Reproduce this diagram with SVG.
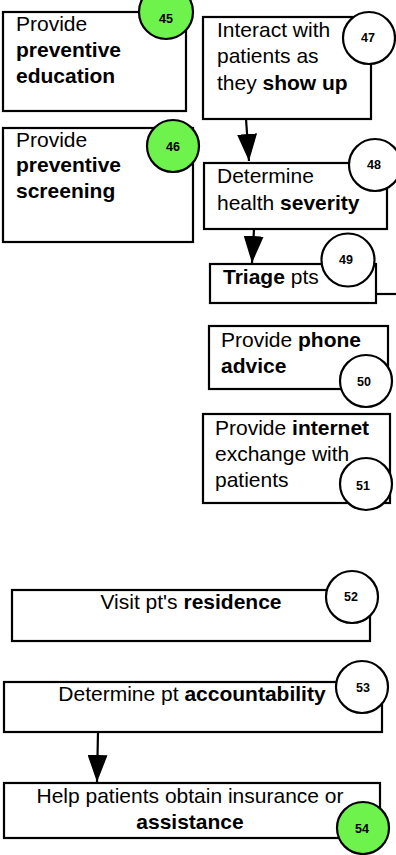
<svg xmlns="http://www.w3.org/2000/svg" width="396" height="855" viewBox="0 0 396 855">
<defs>
<style>
.box{fill:#fff;stroke:#000;stroke-width:2.2}
.num{fill:#fff;stroke:#000;stroke-width:2.2}
.green{fill:#6ef24c}
.t{font-family:"Liberation Sans",Arial,Helvetica,sans-serif;font-size:21px;fill:#000}
.b{font-weight:bold}
.n{font-family:"Liberation Sans",Arial,Helvetica,sans-serif;font-size:12.5px;font-weight:bold;fill:#000;text-anchor:middle}
.c{text-anchor:middle}
.conn{fill:none;stroke:#000;stroke-width:2.2}
</style>
<marker id="ah" markerUnits="userSpaceOnUse" markerWidth="27" markerHeight="20" refX="27" refY="10" orient="auto">
<path d="M0,0 L27,10 L0,20 z" fill="#000"/>
</marker>
</defs>
<rect width="396" height="855" fill="#fff"/>

<g id="n45">
<rect class="box" x="3" y="12" width="183" height="99"/>
<text class="t" x="16" y="31">Provide</text>
<text class="t b" x="16" y="57">preventive</text>
<text class="t b" x="16" y="83">education</text>
<circle class="num green" cx="166" cy="12" r="27"/>
<text class="n" x="166" y="23">45</text>
</g>

<g id="n46">
<rect class="box" x="3" y="128" width="190" height="114"/>
<text class="t" x="16" y="147">Provide</text>
<text class="t b" x="16" y="172">preventive</text>
<text class="t b" x="16" y="198">screening</text>
<circle class="num green" cx="173" cy="146" r="26"/>
<text class="n" x="173" y="151">46</text>
</g>

<g id="n47">
<rect class="box" x="203" y="17" width="168" height="102"/>
<text class="t" x="217" y="37">Interact with</text>
<text class="t" x="217" y="63">patients as</text>
<text class="t" x="217" y="90">they <tspan class="b">show up</tspan></text>
<circle class="num" cx="369" cy="38" r="26"/>
<text class="n" x="368" y="42">47</text>
</g>

<g id="n48">
<rect class="box" x="204" y="163" width="183" height="66"/>
<text class="t" x="217" y="183">Determine</text>
<text class="t" x="217" y="210">health <tspan class="b">severity</tspan></text>
<circle class="num" cx="375" cy="165" r="26"/>
<text class="n" x="374" y="169">48</text>
</g>

<g id="n49">
<rect class="box" x="210" y="264" width="166" height="39"/>
<text class="t" x="223" y="284"><tspan class="b">Triage</tspan> pts</text>
<circle class="num" cx="348" cy="260" r="26.5"/>
<text class="n" x="346" y="264">49</text>
</g>

<g id="n50">
<rect class="box" x="209" y="326" width="179" height="63"/>
<text class="t" x="221" y="347">Provide <tspan class="b">phone</tspan></text>
<text class="t b" x="221" y="373">advice</text>
<circle class="num" cx="366" cy="381" r="26"/>
<text class="n" x="364" y="386">50</text>
</g>

<g id="n51">
<rect class="box" x="203" y="414" width="187" height="89"/>
<text class="t" x="215" y="435">Provide <tspan class="b">internet</tspan></text>
<text class="t" x="215" y="461">exchange with</text>
<text class="t" x="215" y="487">patients</text>
<circle class="num" cx="366" cy="484" r="26"/>
<text class="n" x="363" y="490">51</text>
</g>

<g id="n52">
<rect class="box" x="12" y="590" width="358" height="51"/>
<text class="t c" x="191" y="609">Visit pt's <tspan class="b">residence</tspan></text>
<circle class="num" cx="352" cy="597" r="26"/>
<text class="n" x="351" y="601">52</text>
</g>

<g id="n53">
<rect class="box" x="4" y="682" width="378" height="50"/>
<text class="t c" x="192" y="701">Determine pt <tspan class="b">accountability</tspan></text>
<circle class="num" cx="362" cy="687" r="26"/>
<text class="n" x="363" y="692">53</text>
</g>

<g id="n54">
<rect class="box" x="4" y="783" width="376" height="55"/>
<text class="t c" x="190" y="803">Help patients obtain insurance or</text>
<text class="t c b" x="190" y="829">assistance</text>
<circle class="num green" cx="363" cy="828" r="26"/>
<text class="n" x="362" y="833">54</text>
</g>

<g id="connectors">
<line class="conn" x1="246" y1="119" x2="249" y2="161" marker-end="url(#ah)"/>
<line class="conn" x1="254" y1="229" x2="252" y2="263" marker-end="url(#ah)"/>
<line class="conn" x1="376" y1="294" x2="396" y2="294"/>
<line class="conn" x1="98" y1="732" x2="97" y2="782" marker-end="url(#ah)"/>
</g>
</svg>
